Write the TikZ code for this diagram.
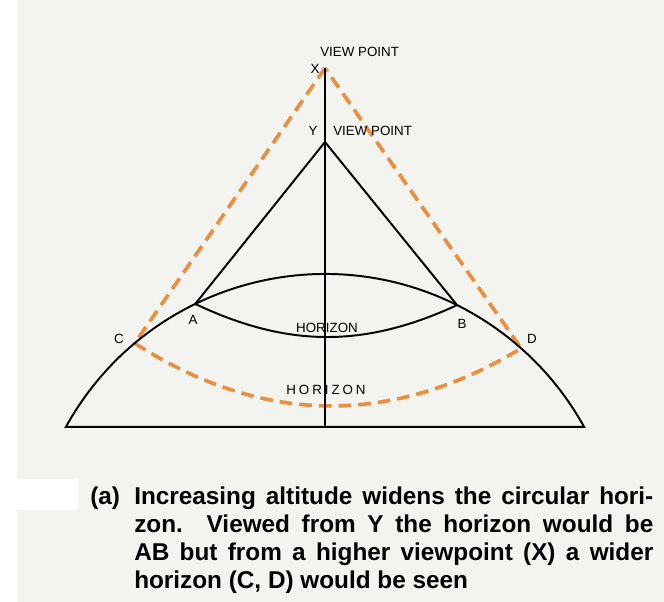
\documentclass[tikz,border=0pt]{standalone}
\usepackage{fontspec}
\setmainfont{Liberation Sans}
\usetikzlibrary{calc}
\definecolor{paper}{RGB}{243,243,240}
\definecolor{sightorange}{RGB}{236,142,62}
\tikzset{
  earth/.style={line width=1.4pt},
  sight/.style={sightorange, line width=2.6pt, dash pattern=on 9pt off 5pt},
  lbl/.style={font=\fontsize{9.5}{11}\selectfont, inner sep=0pt},
  capline/.style={anchor=base west, inner sep=0pt, font=\bfseries\fontsize{17.3}{20}\selectfont}
}
\begin{document}
\begin{tikzpicture}
\useasboundingbox (-8.125,-4.375) rectangle (8.475,10.675);
\fill[white] (-8.125,-4.375) rectangle (8.475,10.675);
\fill[paper] (-7.7,-4.375) rectangle (8.475,10.675);
\fill[white] (-7.7,-1.3) rectangle (-6.175,-2.075);

\coordinate (O) at (0,-3.575);
\coordinate (M) at (0,0);
\coordinate (X) at (0,8.975);
\coordinate (Y) at (0,7.125);
\coordinate (L) at ($(O)+(151.1:7.4)$);
\coordinate (A) at ($(O)+(116:7.4)$);
\coordinate (B) at ($(O)+(63.5:7.4)$);
\coordinate (C) at ($(O)+(130:7.4)$);
\coordinate (D) at ($(O)+(48.5:7.4)$);

% wider horizon seen from X
\draw[sight] (X) -- (C) to[bend right=32] (D) -- cycle;

% earth and the view from Y
\draw[earth] (L) arc[start angle=151.1, end angle=28.9, radius=7.4] -- cycle;
\draw[earth] (X) -- (M);
\draw[earth] (A) -- (Y) -- (B);
\draw[earth] (A) to[bend right=25] (B);

\node[lbl] (xlbl) at (-0.25,8.95) {X};
\node[lbl, anchor=base west] (vpx) at (-0.125,9.25) {VIEW POINT};
\node[lbl] (ylbl) at (-0.3,7.4) {Y};
\node[lbl, anchor=base west] (vpy) at (0.2,7.275) {VIEW POINT};
\node[lbl] (albl) at (-3.3,2.675) {A};
\node[lbl] (blbl) at (3.425,2.575) {B};
\node[lbl] (clbl) at (-5.15,2.2) {C};
\node[lbl] (dlbl) at (5.175,2.2) {D};
\node[lbl] (hab) at (0.05,2.475) {HORIZON};
\node[lbl] (hcd) at (0.025,0.925) {\addfontfeature{LetterSpace=22}HORIZON};

% caption
\node[capline] (cap0) at (-5.875,-1.95) {(a)};
\node[capline] (cap1) at (-4.775,-1.95) {\makebox[12.975cm][s]{Increasing altitude widens the circular hori-}};
\node[capline] (cap2) at (-4.775,-2.65) {\makebox[12.975cm][s]{zon. Viewed from Y the horizon would be}};
\node[capline] (cap3) at (-4.775,-3.35) {\makebox[12.975cm][s]{AB but from a higher viewpoint (X) a wider}};
\node[capline] (cap4) at (-4.775,-4.05) {horizon (C, D) would be seen};
\end{tikzpicture}
\end{document}
